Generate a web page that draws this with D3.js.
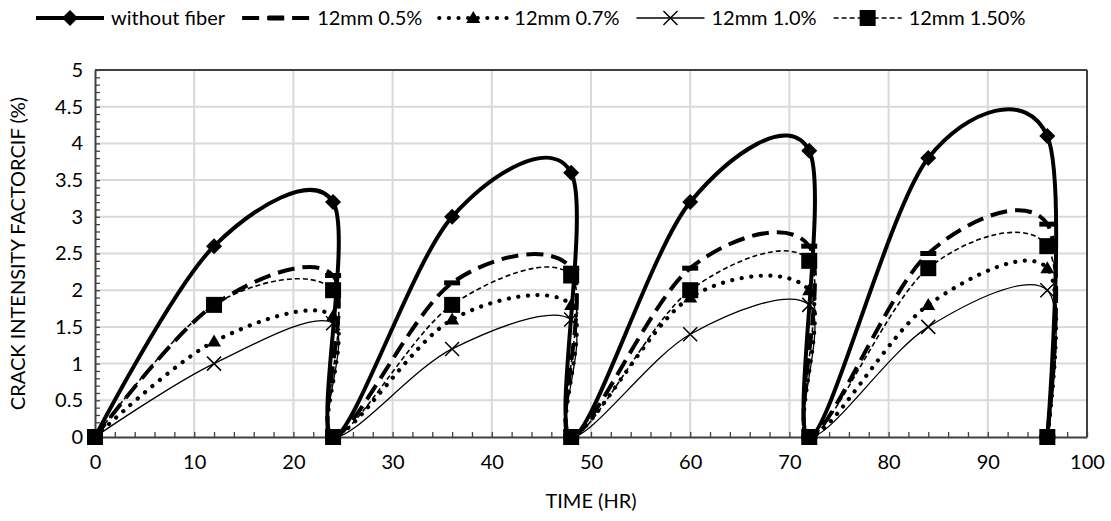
<!DOCTYPE html>
<html><head><meta charset="utf-8">
<script src="https://cdn.jsdelivr.net/npm/d3@7"></script>
<style>body{margin:0;background:#fff} svg{display:block;font-family:Lato,"Open Sans",sans-serif}</style>
</head><body><svg id="c" width="1111" height="521"></svg>
<script>
// ---- data ----
const timeHr = [0,12,24,24,36,48,48,60,72,72,84,96,96];
const withoutFiber = [0,2.6,3.2,0,3.0,3.6,0,3.2,3.9,0,3.8,4.1,0];
const mm05 = [0,1.8,2.2,0,2.1,2.3,0,2.3,2.6,0,2.5,2.9,0];
const mm07 = [0,1.3,1.65,0,1.6,1.8,0,1.9,2.0,0,1.8,2.3,0];
const mm10 = [0,1.0,1.55,0,1.2,1.6,0,1.4,1.8,0,1.5,2.0,0];
const mm15 = [0,1.8,2.0,0,1.8,2.2,0,2.0,2.4,0,2.3,2.6,0];
const seriesNames = ["without fiber","12mm 0.5%","12mm 0.7%","12mm 1.0%","12mm 1.50%"];
const xTicks = [0,10,20,30,40,50,60,70,80,90,100];
const yTicks = [0,0.5,1,1.5,2,2.5,3,3.5,4,4.5,5];

const svg = d3.select("#c");
const x = d3.scaleLinear().domain([0,100]).range([95,1087]);
const y = d3.scaleLinear().domain([0,5]).range([437,70]);
const axisColor = "#404040", gridColor = "#d9d9d9";

// grid
const grid = svg.append("g");
grid.selectAll(".gv").data(xTicks.filter(v=>v>0&&v<100)).join("line")
  .attr("x1",d=>x(d)).attr("x2",d=>x(d)).attr("y1",y(0)).attr("y2",y(5))
  .attr("stroke",gridColor).attr("stroke-width",2);
grid.selectAll(".gh").data(yTicks.filter(v=>v>0&&v<5)).join("line")
  .attr("y1",d=>y(d)).attr("y2",d=>y(d)).attr("x1",x(0)).attr("x2",x(100))
  .attr("stroke",gridColor).attr("stroke-width",2);

// border top/right
svg.append("line").attr("x1",x(0)).attr("x2",x(100)).attr("y1",y(5)).attr("y2",y(5)).attr("stroke",axisColor).attr("stroke-width",2);
svg.append("line").attr("x1",x(100)).attr("x2",x(100)).attr("y1",y(5)).attr("y2",y(0)).attr("stroke",axisColor).attr("stroke-width",2);

// axes
const fontSize = 20;
const gy = svg.append("g").attr("transform",`translate(${x(0)},0)`)
  .call(d3.axisLeft(y).tickValues(d3.range(0,50.5,1).map(v=>v/10)).tickSizeInner(-5).tickSizeOuter(0).tickFormat(""));
const gx = svg.append("g").attr("transform",`translate(0,${y(0)})`)
  .call(d3.axisBottom(x).tickValues(d3.range(0,101,2)).tickSizeInner(-5).tickSizeOuter(0).tickFormat(""));
[gy,gx].forEach(g=>{g.selectAll("path").attr("stroke",axisColor).attr("stroke-width",2);
  g.selectAll("line").attr("stroke",axisColor).attr("stroke-width",1.3);});
const gyl = svg.append("g").attr("transform",`translate(${x(0)},0)`)
  .call(d3.axisLeft(y).tickValues(yTicks).tickSize(0).tickPadding(12).tickFormat(d=>d3.format("")(d)));
const gxl = svg.append("g").attr("transform",`translate(0,${y(0)})`)
  .call(d3.axisBottom(x).tickValues(xTicks).tickSize(0).tickPadding(18));
[gyl,gxl].forEach(g=>{g.select(".domain").remove();
  g.selectAll("text").attr("font-size",fontSize).attr("font-family",'Lato,"Open Sans",sans-serif').attr("fill","#000");});

// axis titles
svg.append("text").attr("x",(x(0)+x(100))/2).attr("y",508).attr("text-anchor","middle")
  .attr("font-size",fontSize).text("TIME (HR)");
svg.append("text").attr("transform",`translate(25,${(y(0)+y(5))/2}) rotate(-90)`).attr("text-anchor","middle")
  .attr("font-size",fontSize).text("CRACK INTENSITY FACTORCIF (%)");

// series
const styles = [
  {values:withoutFiber, width:4, dash:null, cap:"butt", marker:"diamond"},
  {values:mm05, width:4, dash:"17,8", cap:"butt", marker:"dash"},
  {values:mm07, width:4.2, dash:"0.1,9.5", cap:"round", marker:"triangle"},
  {values:mm10, width:1.3, dash:null, cap:"butt", marker:"x"},
  {values:mm15, width:1.6, dash:"5,3", cap:"butt", marker:"square"},
];
function drawMarker(g, type, cx, cy){
  if(type==="diamond"){
    g.append("path").attr("d",`M${cx},${cy-8}L${cx+8},${cy}L${cx},${cy+8}L${cx-8},${cy}Z`).attr("fill","#000");
  } else if(type==="dash"){
    g.append("rect").attr("x",cx-8).attr("y",cy-2.5).attr("width",16).attr("height",5).attr("fill","#000");
  } else if(type==="triangle"){
    g.append("path").attr("d",`M${cx},${cy-7}L${cx+7},${cy+5}L${cx-7},${cy+5}Z`).attr("fill","#000");
  } else if(type==="x"){
    g.append("path").attr("d",`M${cx-7},${cy-7}L${cx+7},${cy+7}M${cx+7},${cy-7}L${cx-7},${cy+7}`)
      .attr("stroke","#000").attr("stroke-width",1.5).attr("fill","none");
  } else if(type==="square"){
    g.append("rect").attr("x",cx-8).attr("y",cy-8).attr("width",16).attr("height",16).attr("fill","#000");
  }
}
const line = d3.line().x(d=>x(d[0])).y(d=>y(d[1])).curve(d3.curveCatmullRom.alpha(0));
styles.forEach((s,i)=>{
  const g = svg.append("g");
  const pts = timeHr.map((t,j)=>[t,s.values[j]]);
  g.append("path").attr("d",line(pts)).attr("fill","none").attr("stroke","#000")
    .attr("stroke-width",s.width).attr("stroke-dasharray",s.dash).attr("stroke-linecap",s.cap);
  pts.forEach(p=>drawMarker(g,s.marker,x(p[0]),y(p[1])));
});

// legend
const lg = svg.append("g");
let cx = 36; const ly = 18, lineLen = 68;
styles.forEach((s,i)=>{
  const g = lg.append("g");
  g.append("line").attr("x1",cx).attr("x2",cx+lineLen).attr("y1",ly).attr("y2",ly)
    .attr("stroke","#000").attr("stroke-width",s.width).attr("stroke-dasharray",s.dash).attr("stroke-linecap",s.cap);
  drawMarker(g,s.marker,cx+lineLen/2,ly);
  const t = g.append("text").attr("x",cx+lineLen+7).attr("y",ly).attr("dy","0.35em")
    .attr("font-size",fontSize).text(seriesNames[i]);
  cx += lineLen + 7 + t.node().getComputedTextLength() + 17;
});
</script></body></html>
